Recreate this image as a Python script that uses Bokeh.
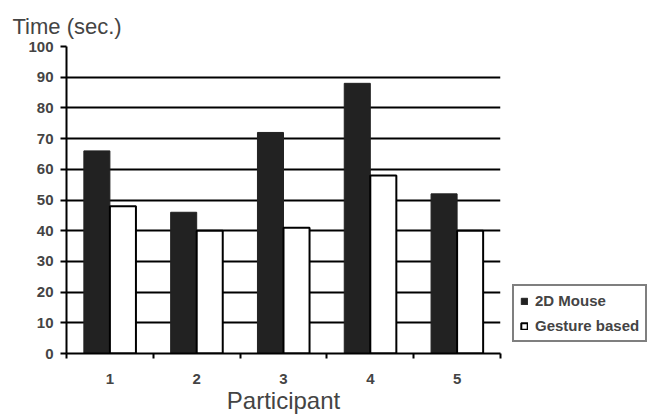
from bokeh.plotting import figure
from bokeh.models import (ColumnDataSource, FixedTicker, Range1d, Legend, LegendItem)
from bokeh.embed import file_html
from bokeh.resources import INLINE

participants = ["1", "2", "3", "4", "5"]
mouse = [66, 46, 72, 88, 52]
gesture = [48, 40, 41, 58, 40]
y_ticks = [0, 10, 20, 30, 40, 50, 60, 70, 80, 90, 100]
grid_ticks = [10, 20, 30, 40, 50, 60, 70, 80, 90]

xpos = list(range(1, len(participants) + 1))
src = ColumnDataSource(dict(
    x_m=[x - 0.15 for x in xpos], x_g=[x + 0.15 for x in xpos],
    mouse=mouse, gesture=gesture))

FONT = "Liberation Sans"

p = figure(frame_width=434, frame_height=307, output_backend="svg", toolbar_location=None,
           x_range=Range1d(0.5, len(participants) + 0.5), y_range=Range1d(0, 100),
           min_border_left=66, min_border_right=146, min_border_top=46,
           min_border_bottom=59, title="Time (sec.)")
p.outline_line_color = None
p.background_fill_color = "white"
p.border_fill_color = "white"

p.title.text_font = FONT
p.title.text_font_size = "22px"
p.title.text_font_style = "normal"
p.title.align = "left"
p.title.offset = -54
p.title.standoff = 16

# grid
p.xgrid.grid_line_color = None
p.ygrid.ticker = FixedTicker(ticks=grid_ticks)
p.ygrid.grid_line_color = "black"
p.ygrid.grid_line_width = 2

r1 = p.vbar(x="x_m", top="mouse", width=0.3, source=src,
            fill_color="#222222", line_color="#222222", line_width=1)
r2 = p.vbar(x="x_g", top="gesture", width=0.3, source=src,
            fill_color="white", line_color="black", line_width=2)

# y axis
p.yaxis.ticker = FixedTicker(ticks=y_ticks)
p.yaxis.axis_line_color = "black"
p.yaxis.axis_line_width = 2
p.yaxis.major_tick_line_color = "black"
p.yaxis.major_tick_line_width = 2
p.yaxis.major_tick_out = 6
p.yaxis.major_tick_in = 0
p.yaxis.minor_tick_line_color = None
p.yaxis.major_label_text_font = FONT
p.yaxis.major_label_text_font_style = "bold"
p.yaxis.major_label_text_font_size = "15px"
p.yaxis.major_label_standoff = 7

# x axis
p.xaxis.ticker = FixedTicker(ticks=xpos,
                             minor_ticks=[x - 0.5 for x in xpos] + [xpos[-1] + 0.5])
p.xaxis.major_label_overrides = {x: lab for x, lab in zip(xpos, participants)}
p.xaxis.axis_line_color = "black"
p.xaxis.axis_line_width = 2
p.xaxis.major_tick_line_color = None
p.xaxis.minor_tick_line_color = "black"
p.xaxis.minor_tick_line_width = 2
p.xaxis.minor_tick_out = 5
p.xaxis.minor_tick_in = 0
p.xaxis.major_label_text_font = FONT
p.xaxis.major_label_text_font_style = "bold"
p.xaxis.major_label_text_font_size = "15px"
p.xaxis.major_label_standoff = 14
p.xaxis.axis_label = "Participant"
p.xaxis.axis_label_text_font = FONT
p.xaxis.axis_label_text_font_style = "normal"
p.xaxis.axis_label_text_font_size = "24px"
p.xaxis.axis_label_standoff = 0

legend = Legend(items=[LegendItem(label="2D Mouse", renderers=[r1]),
                       LegendItem(label="Gesture based", renderers=[r2])],
                location=(12, 11))
legend.border_line_color = "black"
legend.border_line_width = 2
legend.background_fill_color = "white"
legend.background_fill_alpha = 1
legend.label_text_font = FONT
legend.label_text_font_style = "bold"
legend.label_text_font_size = "15px"
legend.glyph_width = 8
legend.glyph_height = 8
legend.label_standoff = 7
legend.spacing = 8
legend.padding = 6
legend.margin = 0
p.add_layout(legend, "right")

open("out.html", "w").write(file_html(p, INLINE))
